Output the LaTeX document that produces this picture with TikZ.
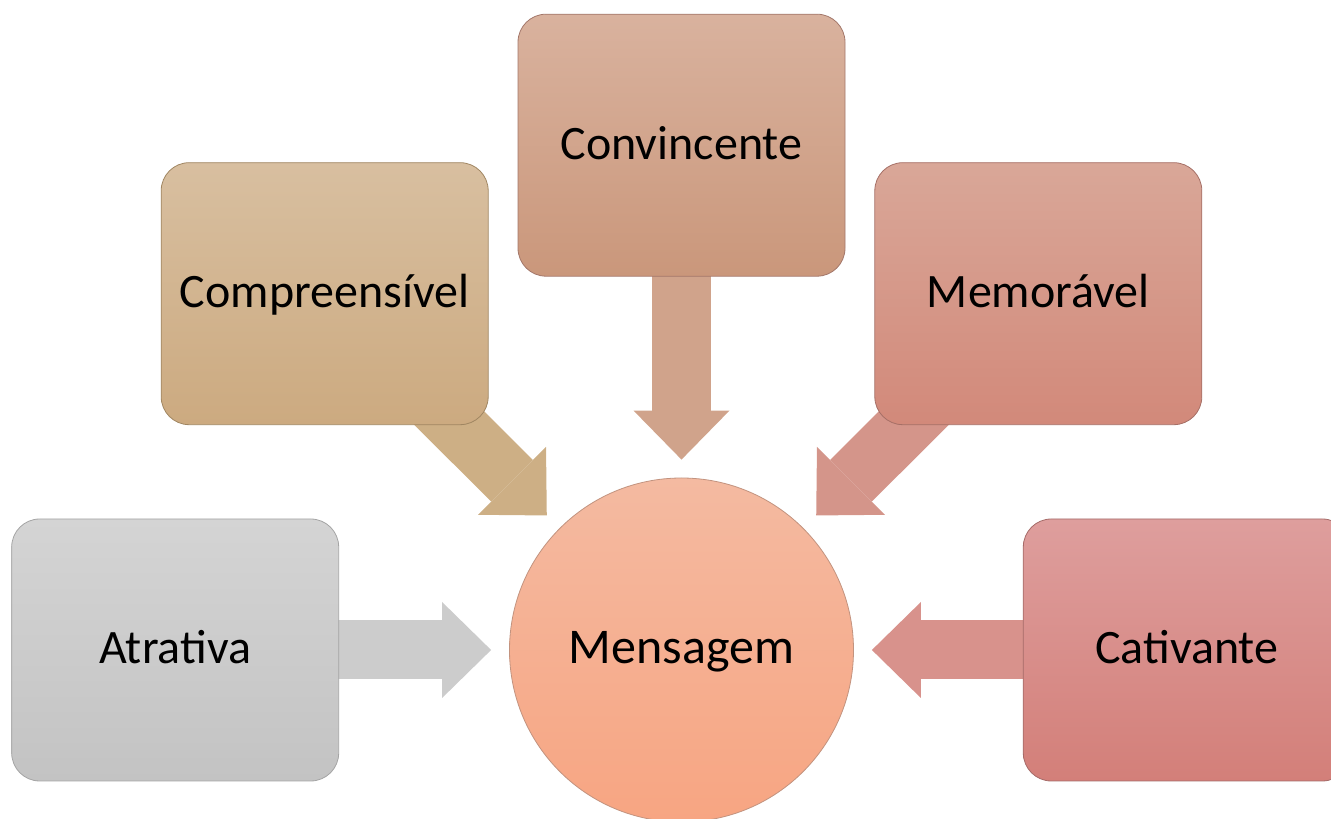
\documentclass[tikz,border=0pt]{standalone}
\usepackage{fontspec}
\setmainfont{Carlito}
\usepackage{tikz}
\usetikzlibrary{arrows.meta, positioning, backgrounds}

\definecolor{atrTop}{HTML}{D4D4D4}
\definecolor{atrBot}{HTML}{C3C3C3}
\definecolor{atrLine}{HTML}{A4A4A4}
\definecolor{atrArrow}{HTML}{CCCCCC}
\definecolor{comTop}{HTML}{D8BFA0}
\definecolor{comBot}{HTML}{CCAA80}
\definecolor{comLine}{HTML}{A08662}
\definecolor{comArrow}{HTML}{CDAF85}
\definecolor{conTop}{HTML}{D9B29E}
\definecolor{conBot}{HTML}{CA977B}
\definecolor{conLine}{HTML}{A3776A}
\definecolor{conArrow}{HTML}{D0A38B}
\definecolor{memTop}{HTML}{D9A798}
\definecolor{memBot}{HTML}{D2897A}
\definecolor{memLine}{HTML}{A56F66}
\definecolor{memArrow}{HTML}{D4958A}
\definecolor{catTop}{HTML}{DE9E9D}
\definecolor{catBot}{HTML}{D37F79}
\definecolor{catLine}{HTML}{A56B68}
\definecolor{catArrow}{HTML}{D8928C}
\definecolor{msgTop}{HTML}{F4BAA1}
\definecolor{msgBot}{HTML}{F7A582}
\definecolor{msgLine}{HTML}{C2937F}

\begin{document}
\begin{tikzpicture}[
  x=1pt, y=1pt,
  box/.style={rectangle, rounded corners=28pt, draw, line width=0.8pt, minimum width=327pt, minimum height=262pt, text height=28pt, text depth=0pt, font=\fontsize{48}{58}\selectfont, align=center},
  hub/.style={circle, draw, line width=0.8pt, minimum size=344pt, inner sep=0pt, text height=28pt, text depth=0pt, font=\fontsize{50}{60}\selectfont},
  fat/.style={line width=59pt, -{Triangle[width=96pt, length=49pt, line width=0pt]}, shorten >=18pt}
]
  \useasboundingbox (0,0) rectangle (1331,819);

  \node[hub, top color=msgTop, bottom color=msgBot, draw=msgLine] (msg) at (681.5,169) {Mensagem};
  \node[box, left=170pt of msg, top color=atrTop, bottom color=atrBot, draw=atrLine] (atr) {Atrativa};
  \node[box, above left=103pt and 71pt of msg, top color=comTop, bottom color=comBot, draw=comLine] (com) {Compreensível};
  \node[box, above=201pt of msg, top color=conTop, bottom color=conBot, draw=conLine] (con) {Convincente};
  \node[box, above right=103pt and 71pt of msg, top color=memTop, bottom color=memBot, draw=memLine] (mem) {Memorável};
  \node[box, right=169pt of msg, top color=catTop, bottom color=catBot, draw=catLine] (cat) {Cativante};

  % block arrows behind the boxes
  \begin{scope}[on background layer]
    \draw[fat, atrArrow] (atr.center) -- (msg);
    \draw[fat, comArrow] (com.center) -- (msg);
    \draw[fat, conArrow] (con.center) -- (msg);
    \draw[fat, memArrow] (mem.center) -- (msg);
    \draw[fat, catArrow] (cat.center) -- (msg);
  \end{scope}
\end{tikzpicture}
\end{document}
